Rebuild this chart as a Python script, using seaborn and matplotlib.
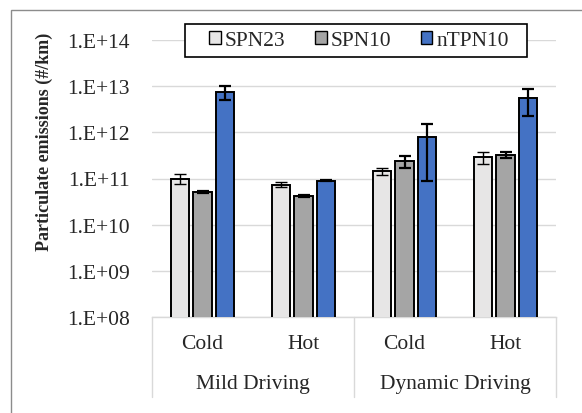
import matplotlib
matplotlib.use("Agg")
import matplotlib.pyplot as plt
import matplotlib.ticker as mticker
from matplotlib.patches import Rectangle
import seaborn as sns
import pandas as pd
import numpy as np

conditions = ["Cold", "Hot", "Cold", "Hot"]
driving = ["Mild Driving", "Mild Driving", "Dynamic Driving", "Dynamic Driving"]
series = ["SPN23", "SPN10", "nTPN10"]
spn23 = [1.0e11, 7.4e10, 1.47e11, 2.95e11]
spn23_err = [0.25e11, 0.8e10, 0.25e11, 0.85e11]
spn10 = [5.0e10, 4.2e10, 2.4e11, 3.25e11]
spn10_err = [0.25e10, 0.15e10, 0.7e11, 0.5e11]
ntpn10 = [7.5e12, 9.0e10, 7.9e11, 5.5e12]
ntpn10_err = [2.5e12, 0.3e10, 7.0e11, 3.2e12]
colors = ["#E7E6E6", "#A5A5A5", "#4472C4"]
ytick_vals = [1e8, 1e9, 1e10, 1e11, 1e12, 1e13, 1e14]
ytick_labels = ["1.E+08", "1.E+09", "1.E+10", "1.E+11", "1.E+12", "1.E+13", "1.E+14"]

sns.set_style("white")
plt.rcParams["font.family"] = ["Liberation Serif", "DejaVu Serif"]

cats = [f"{d}|{c}" for d, c in zip(driving, conditions)]
rows = []
for name, vals in zip(series, [spn23, spn10, ntpn10]):
    for cat, v in zip(cats, vals):
        rows.append({"cat": cat, "series": name, "value": v})
df = pd.DataFrame(rows)

FS = 15.5
W, H = 582, 414
AX_L, AX_R, AX_T, AX_B = 152, 556, 41, 318

fig = plt.figure(figsize=(5.82, 4.14), dpi=100)
ax = fig.add_axes([AX_L / W, 1 - AX_B / H, (AX_R - AX_L) / W, (AX_B - AX_T) / H])

sns.barplot(data=df, x="cat", y="value", hue="series", order=cats,
            hue_order=series, palette=colors, saturation=1,
            width=0.67, gap=0.2, edgecolor="black", linewidth=1.4,
            errorbar=None, ax=ax, legend=False, zorder=3)

ax.set_yscale("log")
ax.set_ylim(1e8, 1e14)
ax.set_xlim(-0.5, 3.5)

errs = [spn23_err, spn10_err, ntpn10_err]
err_lw = [1.0, 1.6, 1.6]
for cont, e, lw in zip(ax.containers, errs, err_lw):
    xs = [p.get_x() + p.get_width() / 2 for p in cont.patches]
    hs = [p.get_height() for p in cont.patches]
    ax.errorbar(xs, hs, yerr=e, fmt="none", ecolor="black", elinewidth=lw,
                capsize=4, capthick=lw, zorder=4)

ax.yaxis.set_major_locator(mticker.FixedLocator(ytick_vals))
ax.yaxis.set_major_formatter(mticker.FixedFormatter(ytick_labels))
ax.yaxis.set_minor_locator(mticker.NullLocator())
ax.grid(axis="y", color="#D9D9D9", linewidth=1.0, zorder=0)
ax.set_axisbelow(True)
ax.tick_params(axis="y", length=0, pad=16, labelsize=FS)
ax.tick_params(axis="x", length=0, pad=12, labelsize=FS)
ax.set_xticks(range(len(cats)))
ax.set_xticklabels(conditions)
ax.set_xlabel("")
ax.set_ylabel("Particulate emissions (#/km)", fontsize=13, fontweight="bold")
ax.yaxis.set_label_coords((53 - AX_L) / (AX_R - AX_L), (AX_B - 142) / (AX_B - AX_T))

for s in ["top", "right", "left"]:
    ax.spines[s].set_visible(False)
ax.spines["bottom"].set_color("#D9D9D9")
ax.spines["bottom"].set_linewidth(1.0)

trans = ax.get_xaxis_transform()
ph = AX_B - AX_T
ybot = -(398 - AX_B) / ph
for xv in [-0.5, 1.5, 3.5]:
    ax.plot([xv, xv], [0, ybot], color="#D9D9D9", lw=1.0, transform=trans, clip_on=False)
for xc, lab in [(0.5, "Mild Driving"), (2.5, "Dynamic Driving")]:
    ax.text(xc, -(385 - AX_B) / ph, lab, transform=trans, ha="center", va="center", fontsize=FS)

# legend frame box
pw = AX_R - AX_L
ax.add_patch(Rectangle(((185 - AX_L) / pw, (AX_B - 58) / ph), (527 - 185) / pw, (58 - 25) / ph,
                       transform=ax.transAxes, facecolor="white", edgecolor="black",
                       linewidth=1.2, clip_on=False, zorder=9))
handles = [Rectangle((0, 0), 1, 1, facecolor=c, edgecolor="black", linewidth=1.0) for c in colors]
leg = ax.legend(handles, series, loc="center", bbox_to_anchor=((359 - AX_L) / pw, (AX_B - 41.5) / ph),
                ncol=3, frameon=False, fontsize=FS, handlelength=0.55,
                handleheight=0.55, handletextpad=0.2, columnspacing=1.35,
                borderpad=0.0, borderaxespad=0.0)
leg.set_zorder(10)

fig.add_artist(Rectangle((11 / W, -0.1), 1.2, 1 - 11 / H + 0.1, transform=fig.transFigure,
                         fill=False, edgecolor="#8C8C8C", linewidth=1.0))

fig.savefig("out.png", dpi=100)
